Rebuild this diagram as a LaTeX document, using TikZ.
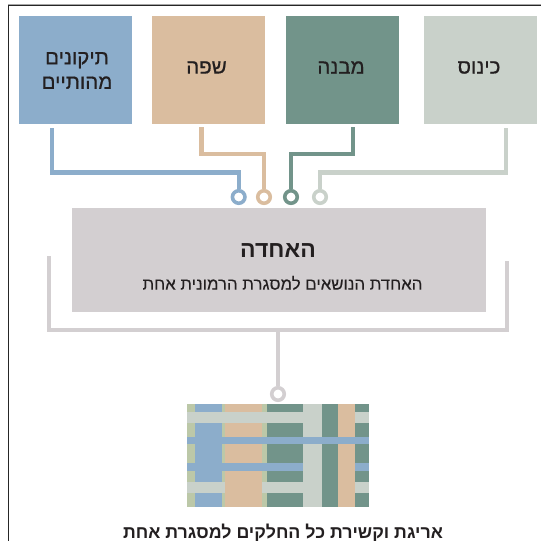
\documentclass[tikz,border=0pt]{standalone}
\usepackage{fontspec}
\setmainfont{Liberation Sans}
\newfontfamily\hebfont[Script=Hebrew]{Liberation Sans}
\newfontfamily\hebmed[Script=Hebrew,FakeBold=0.6]{Liberation Sans}
\newfontfamily\hebsub[Script=Hebrew,FakeBold=0.15]{Liberation Sans}
\TeXXeTstate=1
\usetikzlibrary{calc}
\definecolor{cblue}{HTML}{8CADCB}
\definecolor{ctan}{HTML}{DABD9F}
\definecolor{cgreen}{HTML}{72948A}
\definecolor{clight}{HTML}{C9D1CA}
\definecolor{cgray}{HTML}{D3CFD1}
\definecolor{colive}{HTML}{BCC8A8}
\definecolor{ctext}{HTML}{231F20}
\newcommand{\heb}[1]{\beginR #1\endR}
\tikzset{
  x=1pt,y=-1pt,
  topbox/.style={minimum width=113pt,minimum height=108pt,inner sep=0pt,anchor=north west},
  toplabel/.style={text=ctext,align=center,font=\hebmed\fontsize{20.5}{24.5}\selectfont,inner sep=0pt},
  wire/.style={line width=4.2pt,line join=miter},
  dot/.style={circle,draw,line width=3.6pt,minimum size=12.5pt,inner sep=0pt,fill=white},
}
\newcommand{\wv}[5]{\fill[#1] ({186.7+(#2-50)/3},{380+(#3)/3}) rectangle ({186.7+(#4-50)/3},{380+(#5)/3});}
\begin{document}
\begin{tikzpicture}
\useasboundingbox (0,0) rectangle (541,541);
\fill[white] (0,0) rectangle (541,541);
% frame
\draw[line width=.7pt,color=gray!70] (8,4) -- (541,4);
\draw[line width=1pt,color=black!85] (8,541) -- (8,5) -- (541,5);
% top boxes
\node[topbox,fill=cblue] (bluebox) at (19,16) {};
\node[topbox,fill=ctan] (tanbox) at (151.5,16) {};
\node[topbox,fill=cgreen] (greenbox) at (286,16) {};
\node[topbox,fill=clight,minimum width=113.5pt] (lightbox) at (423.7,16) {};
\node[toplabel] (bluetext) at (77,70.5) {\heb{תיקונים}\\\heb{מהותיים}};
\node[toplabel] (tantext) at (206.5,67.5) {\heb{שפה}};
\node[toplabel] (greentext) at (341,67.5) {\heb{מבנה}};
\node[toplabel] (lighttext) at (479,67.5) {\heb{כינוס}};
% dots
\node[dot,draw=cblue] (d1) at (238.7,197) {};
\node[dot,draw=ctan] (d2) at (264,197) {};
\node[dot,draw=cgreen] (d3) at (291,197) {};
\node[dot,draw=clight] (d4) at (320,197) {};
% free ends
\coordinate (s1) at (52,128);
\coordinate (s2) at (201.5,127);
\coordinate (s3) at (353.3,127);
\coordinate (s4) at (506,128);
\draw[wire,cblue] (s1) -- (52,172.5) -| (d1.north);
\draw[wire,ctan] (s2) -- (201.5,154) -| (d2.north);
\draw[wire,cgreen] (s3) -- (353.3,154) -| (d3.north);
\draw[wire,clight] (s4) -- (506,172.5) -| (d4.north);
% main box
\node[minimum width=414pt,minimum height=104pt,inner sep=0pt,anchor=north west,fill=cgray] (mainbox) at (72,208) {};
\node[text=ctext,font=\hebfont\bfseries\fontsize{23}{26}\selectfont] (maintitle) at (278,251) {\heb{האחדה}};
\node[text=ctext,font=\hebsub\fontsize{16.8}{20}\selectfont] (mainsub) at (282.5,283) {\heb{האחדת הנושאים למסגרת הרמונית אחת}};
% bracket
\coordinate (bl) at (49,256);
\coordinate (br) at (507,261);
\draw[wire,cgray] (bl) |- (br |- 0,330) -- (br);
\coordinate (bm) at (278,330);
\node[dot,draw=cgray] (d5) at (278,394) {};
\draw[wire,cgray] (bm) -- (d5.north);
% weave
\wv{colive}{50}{73}{596}{380}
\wv{cblue}{75}{73}{155}{380}
\wv{ctan}{165}{73}{275}{380}
\wv{cgreen}{290}{73}{400}{380}
\wv{cgreen}{457}{73}{504}{380}
\wv{ctan}{504}{73}{556}{380}
\wv{cgreen}{556}{73}{596}{380}
\wv{clight}{50}{96}{400}{128}
\wv{clight}{556}{96}{596}{128}
\wv{cblue}{50}{171}{596}{192}
\wv{cblue}{50}{250}{400}{272}
\wv{cblue}{556}{250}{596}{272}
\wv{clight}{50}{307}{165}{338}
\wv{clight}{275}{307}{400}{338}
\wv{clight}{556}{307}{596}{338}
\wv{clight}{400}{73}{457}{171}
\wv{clight}{400}{192}{457}{380}
% caption
\node[text=ctext,font=\hebfont\bfseries\fontsize{17.8}{20}\selectfont] (caption) at (283,532.5) {\heb{אריגת וקשירת כל החלקים למסגרת אחת}};
\end{tikzpicture}
\end{document}
